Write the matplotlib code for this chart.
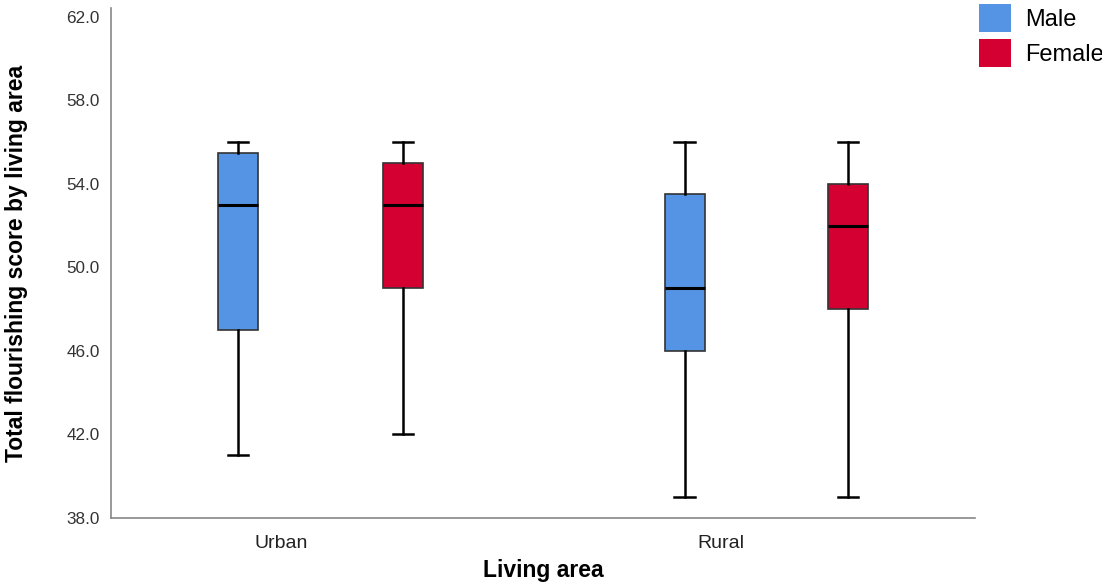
import numpy as np
import matplotlib.pyplot as plt
from matplotlib.patches import Patch

plt.rcParams['font.family'] = ['Liberation Sans', 'DejaVu Sans']

# data
areas = ['Urban', 'Rural']
genders = ['Male', 'Female']
whislo = [41.0, 42.0, 39.0, 39.0]
q1 = [47.0, 49.0, 46.0, 48.0]
med = [53.0, 53.0, 49.0, 52.0]
q3 = [55.5, 55.0, 53.5, 54.0]
whishi = [56.0, 56.0, 56.0, 56.0]
yticks = [38.0, 42.0, 46.0, 50.0, 54.0, 58.0, 62.0]

colors = ['#5594E4', '#D50032']
positions = [0.147, 0.338, 0.664, 0.853]
label_pos = [0.197, 0.706]

stats = []
for i in range(4):
    stats.append({'whislo': whislo[i], 'q1': q1[i], 'med': med[i],
                  'q3': q3[i], 'whishi': whishi[i], 'fliers': []})

fig = plt.figure(figsize=(11.02, 5.85), dpi=100)
ax = fig.add_axes([111/1102, 1 - 518/585, (975-111)/1102, (518-8)/585])

bp = ax.bxp(stats, positions=positions, widths=0.046, patch_artist=True,
            showfliers=False,
            boxprops=dict(edgecolor='#333333', linewidth=1.2),
            medianprops=dict(color='black', linewidth=2.2),
            whiskerprops=dict(color='black', linewidth=1.8),
            capprops=dict(color='black', linewidth=1.8),
            capwidths=0.024)
for i, box in enumerate(bp['boxes']):
    box.set_facecolor(colors[i % 2])

ax.set_xlim(0, 1)
ax.set_ylim(38, 62.43)
ax.set_yticks(yticks)
ax.set_yticklabels(['%.1f' % v for v in yticks])
ax.set_xticks(label_pos)
ax.set_xticklabels(areas)
ax.tick_params(axis='y', length=0, labelsize=12.3, labelcolor='#333333', pad=8)
ax.tick_params(axis='x', length=0, labelsize=14, labelcolor='#222222', pad=12)
for s in ['top', 'right']:
    ax.spines[s].set_visible(False)
for s in ['left', 'bottom']:
    ax.spines[s].set_color('#888888')
    ax.spines[s].set_linewidth(1.2)

ax.set_xlabel('Living area', fontsize=16.5, fontweight='bold', labelpad=5)
ax.set_ylabel('Total flourishing score by living area', fontsize=16.5,
              fontweight='bold', labelpad=28)

handles = [Patch(facecolor=colors[i], edgecolor='none', label=genders[i]) for i in range(2)]
fig.legend(handles=handles, loc='upper left', bbox_to_anchor=(979/1102, 1 - 4/585),
           frameon=False, fontsize=17, handlelength=1.36, handleheight=1.47,
           handletextpad=0.6, labelspacing=0.27, borderaxespad=0, borderpad=0)

fig.savefig('out.png', dpi=100)
